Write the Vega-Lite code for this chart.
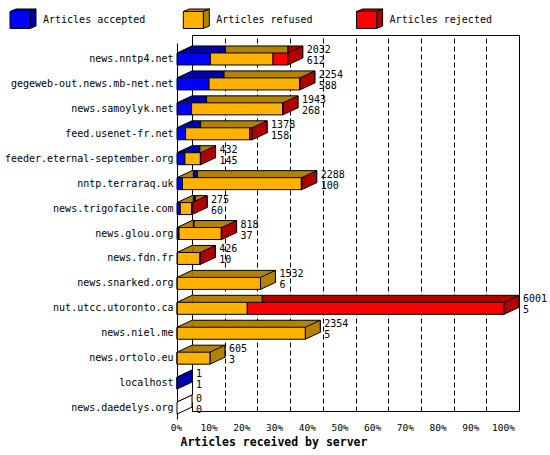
{
  "$schema": "https://vega.github.io/schema/vega-lite/v6.json",
  "width": 327,
  "height": 376,
  "autosize": {"type": "none"},
  "padding": {"left": 192, "top": 35, "right": 31, "bottom": 44},
  "background": "white",
  "config": {
    "view": {"stroke": "black", "strokeWidth": 1},
    "font": "DejaVu Sans Mono"
  },
  "data": {
    "values": [
      {"server": "news.nntp4.net", "received": 2032, "accepted": 612, "refused": 1150, "rejected": 270},
      {"server": "gegeweb-out.news.mb-net.net", "received": 2254, "accepted": 588, "refused": 1660, "rejected": 6},
      {"server": "news.samoylyk.net", "received": 1943, "accepted": 268, "refused": 1670, "rejected": 5},
      {"server": "feed.usenet-fr.net", "received": 1378, "accepted": 158, "refused": 1180, "rejected": 40},
      {"server": "feeder.eternal-september.org", "received": 432, "accepted": 145, "refused": 284, "rejected": 3},
      {"server": "nntp.terraraq.uk", "received": 2288, "accepted": 100, "refused": 2182, "rejected": 6},
      {"server": "news.trigofacile.com", "received": 275, "accepted": 60, "refused": 212, "rejected": 3},
      {"server": "news.glou.org", "received": 818, "accepted": 37, "refused": 776, "rejected": 5},
      {"server": "news.fdn.fr", "received": 426, "accepted": 10, "refused": 412, "rejected": 4},
      {"server": "news.snarked.org", "received": 1532, "accepted": 6, "refused": 1526, "rejected": 0},
      {"server": "nut.utcc.utoronto.ca", "received": 6001, "accepted": 5, "refused": 1285, "rejected": 4711},
      {"server": "news.niel.me", "received": 2354, "accepted": 5, "refused": 2349, "rejected": 0},
      {"server": "news.ortolo.eu", "received": 605, "accepted": 3, "refused": 602, "rejected": 0},
      {"server": "localhost", "received": 1, "accepted": 1, "refused": 0, "rejected": 0},
      {"server": "news.daedelys.org", "received": 0, "accepted": 0, "refused": 0, "rejected": 0}
    ]
  },
  "encoding": {
    "y": {
      "field": "server", "type": "nominal", "sort": null, "title": null,
      "scale": {
        "domain": ["news.nntp4.net", "gegeweb-out.news.mb-net.net", "news.samoylyk.net", "feed.usenet-fr.net", "feeder.eternal-september.org", "nntp.terraraq.uk", "news.trigofacile.com", "news.glou.org", "news.fdn.fr", "news.snarked.org", "nut.utcc.utoronto.ca", "news.niel.me", "news.ortolo.eu", "localhost", "news.daedelys.org"],
        "paddingInner": 0.5, "paddingOuter": 0.29, "align": 0.674
      },
      "axis": {
        "translate": 8.5, "offset": 23, "domain": true, "domainColor": "black", "domainWidth": 1,
        "ticks": false, "labelPadding": 4, "labelFont": "DejaVu Sans Mono", "labelFontSize": 10,
        "labelColor": "black", "labelLimit": 300, "title": null
      }
    }
  },
  "layer": [
    {
      "transform": [
        {"fold": ["accepted", "refused", "rejected"], "as": ["type", "count"]},
        {"filter": "datum.count > 0"}
      ],
      "mark": {"type": "bar", "height": 12, "yOffset": 1, "y2Offset": 1, "stroke": "black", "strokeWidth": 1},
      "encoding": {
        "x": {
          "field": "count", "type": "quantitative", "stack": "zero", "title": "Articles received by server",
          "scale": {"domain": [0, 6001], "nice": false, "zero": true},
          "axis": {
            "values": [0, 600.1, 1200.2, 1800.3, 2400.4, 3000.5, 3600.6, 4200.7, 4800.8, 5400.9, 6001],
            "tickCount": 11,
            "labelExpr": "round(datum.value / 60.01) + '%'",
            "grid": true, "gridColor": "black", "gridDash": [5, 3], "gridOpacity": 1, "gridWidth": 1,
            "domain": false, "ticks": false, "labelOffset": -16, "labelPadding": 16,
            "labelFont": "DejaVu Sans Mono", "labelFontSize": 9.5, "labelColor": "black",
            "labelFlush": false, "labelOverlap": false, "labelBaseline": "middle",
            "titleFont": "DejaVu Sans Mono", "titleFontWeight": "bold", "titleFontSize": 11.5, "titleColor": "black",
            "titleX": -12, "titleY": 31, "titleAlign": "left", "titleBaseline": "middle", "titleAnchor": "start"
          }
        },
        "fill": {
          "field": "type", "type": "nominal",
          "scale": {"domain": ["accepted", "refused", "rejected", "none"], "range": ["#0000A8", "#B38200", "#B00000", "#FFFFFF"]},
          "legend": {
            "orient": "none", "legendX": -182.5, "legendY": -25.5, "direction": "horizontal", "title": null,
            "values": ["accepted", "refused", "rejected"],
            "symbolType": "M-1,-0.85L-0.4,-1.1L1.6,-1.1L1,-0.85ZM1,-0.85L1.6,-1.1L1.6,0.6L1,0.85Z",
            "symbolSize": 400, "symbolStrokeColor": "black", "symbolStrokeWidth": 1, "symbolOpacity": 1,
            "labelFont": "DejaVu Sans Mono", "labelFontSize": 10, "labelColor": "black", "labelOpacity": 0, "labelOffset": 12.5,
            "columnPadding": 35.3, "gridAlign": "all", "labelExpr": "'Articles ' + datum.label", "padding": 0, "labelLimit": 300
          }
        },
        "order": {"field": "type"}
      }
    },
    {
      "transform": [
        {"calculate": "datum.accepted >= 120 ? 'accepted' : (datum.refused > 0 ? 'refused' : (datum.accepted > 0 ? 'accepted' : 'none'))", "as": "capType"}
      ],
      "mark": {"type": "point", "shape": "M-15,2L0,-5L0.8,-5L0.8,2Z", "size": 4, "filled": true, "opacity": 1, "strokeWidth": 0},
      "encoding": {
        "x": {"datum": 0, "type": "quantitative", "title": "Articles received by server"},
        "fill": {"field": "capType", "type": "nominal"}
      }
    },
    {
      "mark": {"type": "point", "shape": "M-15,2L0,-5", "size": 4, "filled": false, "opacity": 1, "stroke": "black", "strokeWidth": 1},
      "encoding": {
        "x": {"datum": 0, "type": "quantitative", "title": "Articles received by server"}
      }
    },
    {
      "transform": [
        {"calculate": "datum.rejected > 0 ? 'rejected' : (datum.refused > 0 ? 'refused' : (datum.accepted > 0 ? 'accepted' : 'none'))", "as": "endType"}
      ],
      "mark": {"type": "point", "shape": "M-15,2L0,-5L0,7L-15,14Z", "size": 4, "filled": true, "opacity": 1, "stroke": "black", "strokeWidth": 1},
      "encoding": {
        "x": {"field": "received", "type": "quantitative", "title": "Articles received by server"},
        "fill": {"field": "endType", "type": "nominal"}
      }
    },
    {
      "transform": [
        {"fold": ["accepted", "refused", "rejected"], "as": ["type", "count"]},
        {"filter": "datum.count > 0"}
      ],
      "mark": {"type": "bar", "height": 12, "xOffset": -15, "x2Offset": -15, "yOffset": 8, "y2Offset": 8, "stroke": "black", "strokeWidth": 1},
      "encoding": {
        "x": {"field": "count", "type": "quantitative", "stack": "zero", "title": "Articles received by server"},
        "color": {
          "field": "type", "type": "nominal",
          "scale": {"domain": ["accepted", "refused", "rejected"], "range": ["#0000FF", "#FFB300", "#FF0000"]},
          "legend": {
            "orient": "none", "legendX": -182.5, "legendY": -25.5, "direction": "horizontal", "title": null,
            "symbolType": "M-1,-0.85L1,-0.85L1,0.85L-1,0.85Z",
            "symbolSize": 400, "symbolStrokeColor": "black", "symbolStrokeWidth": 1, "symbolOpacity": 1,
            "labelFont": "DejaVu Sans Mono", "labelFontSize": 10, "labelColor": "black", "labelOffset": 12.5,
            "columnPadding": 35.3, "gridAlign": "all", "labelExpr": "'Articles ' + datum.label", "padding": 0, "labelLimit": 300
          }
        },
        "order": {"field": "type"}
      }
    },
    {
      "mark": {"type": "text", "align": "left", "baseline": "middle", "dx": 4, "dy": -1, "font": "DejaVu Sans Mono", "fontSize": 10, "color": "black"},
      "encoding": {
        "x": {"field": "received", "type": "quantitative", "title": "Articles received by server"},
        "text": {"field": "received", "type": "quantitative", "format": "d"}
      }
    },
    {
      "mark": {"type": "text", "align": "left", "baseline": "middle", "dx": 4, "dy": 10, "font": "DejaVu Sans Mono", "fontSize": 10, "color": "black"},
      "encoding": {
        "x": {"field": "received", "type": "quantitative", "title": "Articles received by server"},
        "text": {"field": "accepted", "type": "quantitative", "format": "d"}
      }
    }
  ]
}
